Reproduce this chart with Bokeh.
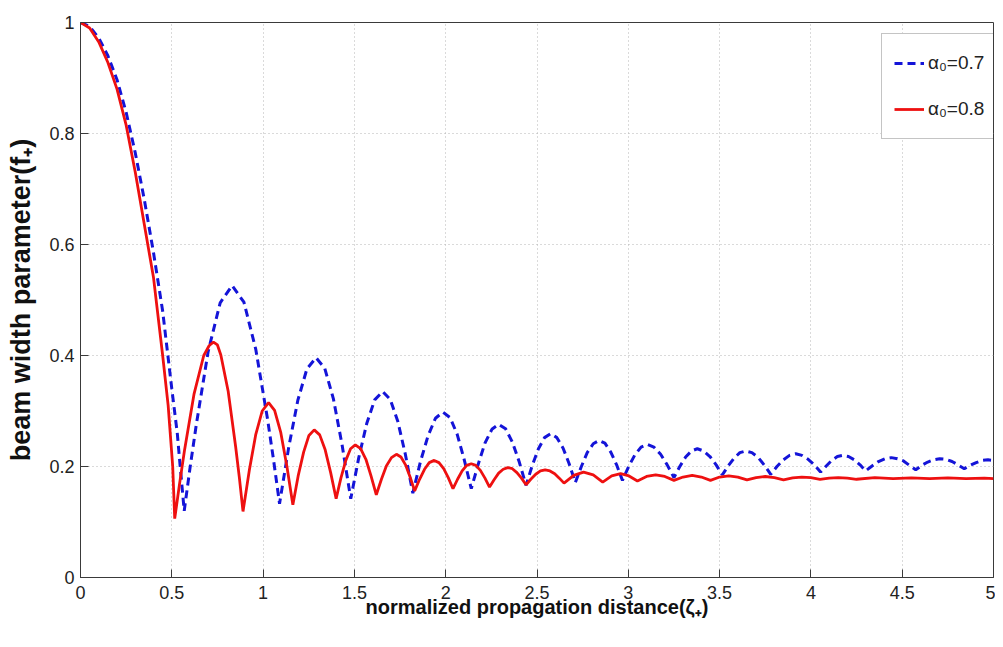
from bokeh.plotting import figure
from bokeh.models import Range1d, FixedTicker, Legend, LegendItem, ColumnDataSource
from bokeh.embed import file_html
from bokeh.resources import INLINE

# ---- data ----
blue_x = [0, 0.05, 0.1, 0.15, 0.2, 0.25, 0.3, 0.35, 0.4, 0.45, 0.5, 0.53, 0.546, 0.568,
          0.6, 0.634, 0.699, 0.765, 0.83, 0.895, 0.96, 1.025, 1.058, 1.09,
          1.14, 1.19, 1.24, 1.29, 1.3375, 1.385, 1.4325, 1.48,
          1.524, 1.568, 1.611, 1.655, 1.696, 1.738, 1.779, 1.82,
          1.861, 1.903, 1.944, 1.985, 2.024, 2.063, 2.101, 2.14,
          2.178, 2.215, 2.253, 2.29, 2.328, 2.365, 2.403, 2.44,
          2.474, 2.508, 2.541, 2.575, 2.609, 2.643, 2.676, 2.71,
          2.743, 2.775, 2.808, 2.84, 2.872, 2.904, 2.936, 2.968,
          3.002, 3.036, 3.07, 3.104, 3.14, 3.177, 3.213, 3.25,
          3.282, 3.314, 3.346, 3.378, 3.412, 3.447, 3.481, 3.515,
          3.547, 3.579, 3.611, 3.643, 3.677, 3.712, 3.746, 3.78,
          3.814, 3.849, 3.883, 3.917, 3.951, 3.985, 4.019, 4.053,
          4.084, 4.114, 4.145, 4.175, 4.206, 4.238, 4.269, 4.3,
          4.335, 4.37, 4.405, 4.44, 4.474, 4.507, 4.54, 4.574,
          4.607, 4.64, 4.672, 4.705, 4.739, 4.773, 4.806, 4.84,
          4.872, 4.905, 4.937, 4.97, 5.0]
blue_y = [1.0, 0.993, 0.972, 0.94, 0.897, 0.838, 0.765, 0.68, 0.585, 0.48, 0.34, 0.26, 0.2, 0.12,
          0.198, 0.275, 0.407, 0.495, 0.526, 0.496, 0.411, 0.284, 0.21, 0.133,
          0.234, 0.319, 0.376, 0.396, 0.377, 0.322, 0.239, 0.142,
          0.216, 0.278, 0.32, 0.335, 0.321, 0.281, 0.222, 0.152,
          0.208, 0.255, 0.287, 0.298, 0.288, 0.258, 0.213, 0.16,
          0.204, 0.242, 0.267, 0.276, 0.268, 0.244, 0.208, 0.166,
          0.202, 0.232, 0.252, 0.259, 0.252, 0.233, 0.205, 0.171,
          0.2, 0.225, 0.241, 0.247, 0.242, 0.226, 0.203, 0.175,
          0.2, 0.221, 0.235, 0.24, 0.235, 0.222, 0.203, 0.18,
          0.2, 0.217, 0.228, 0.232, 0.228, 0.218, 0.203, 0.185,
          0.201, 0.215, 0.225, 0.228, 0.225, 0.216, 0.202, 0.186,
          0.2, 0.212, 0.22, 0.223, 0.22, 0.213, 0.203, 0.19,
          0.201, 0.211, 0.218, 0.22, 0.218, 0.212, 0.203, 0.192,
          0.201, 0.209, 0.214, 0.216, 0.214, 0.21, 0.202, 0.194,
          0.202, 0.208, 0.212, 0.214, 0.213, 0.209, 0.203, 0.196,
          0.202, 0.207, 0.211, 0.212, 0.211]

red_x = [0, 0.05, 0.1, 0.15, 0.2, 0.25, 0.3, 0.35, 0.4, 0.45, 0.48, 0.505, 0.516,
         0.543, 0.569, 0.622, 0.675, 0.705, 0.728, 0.75, 0.7685, 0.809, 0.8495, 0.87, 0.89,
         0.925, 0.96, 0.995, 1.03, 1.063, 1.097, 1.13, 1.163,
         1.192, 1.222, 1.251, 1.28, 1.31, 1.34, 1.37, 1.40,
         1.426, 1.453, 1.479, 1.505, 1.534, 1.563, 1.591, 1.62,
         1.648, 1.675, 1.703, 1.73, 1.755, 1.78, 1.805, 1.83,
         1.857, 1.884, 1.91, 1.937, 1.963, 1.989, 2.014, 2.04,
         2.065, 2.09, 2.115, 2.14, 2.165, 2.19, 2.215, 2.24,
         2.265, 2.29, 2.315, 2.34, 2.365, 2.39, 2.415, 2.44,
         2.466, 2.493, 2.519, 2.545, 2.571, 2.597, 2.622, 2.648,
         2.701, 2.755, 2.808, 2.86, 2.909, 2.958, 3.004, 3.05,
         3.10, 3.15, 3.20, 3.25, 3.30, 3.35, 3.40, 3.45,
         3.50, 3.55, 3.60, 3.65, 3.70, 3.75, 3.80, 3.85,
         3.90, 3.95, 4.00, 4.05, 4.10, 4.15, 4.20, 4.25,
         4.35, 4.45, 4.55, 4.65, 4.75, 4.85, 4.95, 5.0]
red_y = [1.0, 0.99, 0.965, 0.928, 0.88, 0.815, 0.73, 0.635, 0.54, 0.40, 0.31, 0.2, 0.106,
         0.17, 0.228, 0.331, 0.4, 0.418, 0.424, 0.419, 0.401, 0.335, 0.236, 0.18, 0.119,
         0.194, 0.258, 0.3, 0.315, 0.301, 0.261, 0.201, 0.131,
         0.183, 0.226, 0.256, 0.266, 0.257, 0.23, 0.189, 0.142,
         0.179, 0.211, 0.232, 0.239, 0.232, 0.213, 0.183, 0.149,
         0.177, 0.201, 0.216, 0.222, 0.217, 0.203, 0.181, 0.156,
         0.177, 0.195, 0.207, 0.211, 0.207, 0.196, 0.18, 0.16,
         0.177, 0.192, 0.202, 0.205, 0.202, 0.193, 0.179, 0.163,
         0.176, 0.188, 0.195, 0.198, 0.196, 0.189, 0.179, 0.167,
         0.177, 0.186, 0.192, 0.194, 0.192, 0.187, 0.179, 0.17,
         0.184, 0.19, 0.185, 0.172, 0.183, 0.187, 0.183, 0.174,
         0.182, 0.185, 0.182, 0.175, 0.181, 0.184, 0.181, 0.175,
         0.181, 0.183, 0.181, 0.176, 0.180, 0.182, 0.180, 0.176,
         0.1795, 0.181, 0.1798, 0.177, 0.179, 0.180, 0.179, 0.177,
         0.180, 0.178, 0.1795, 0.178, 0.1795, 0.178, 0.179, 0.178]

series_labels = ["α₀=0.7", "α₀=0.8"]
x_ticks = [0, 0.5, 1, 1.5, 2, 2.5, 3, 3.5, 4, 4.5, 5]
x_tick_labels = ["0", "0.5", "1", "1.5", "2", "2.5", "3", "3.5", "4", "4.5", "5"]
y_ticks = [0, 0.2, 0.4, 0.6, 0.8, 1]
y_tick_labels = ["0", "0.2", "0.4", "0.6", "0.8", "1"]
x_label = "normalized propagation distance(ζ₊)"
y_label = "beam width parameter(f₊)"

FONT = "Liberation Sans"
AX = "#3a3a3a"

p = figure(width=995, height=639, output_backend="svg", toolbar_location=None,
           x_range=Range1d(0, 5), y_range=Range1d(0, 1),
           min_border_left=80, min_border_right=2, min_border_top=22, min_border_bottom=62)
p.background_fill_color = "white"
p.border_fill_color = "white"
p.outline_line_color = AX
p.outline_line_width = 1

xa = p.xaxis[0]
ya = p.yaxis[0]
for ax in (xa, ya):
    ax.major_tick_in = 8
    ax.major_tick_out = 0
    ax.minor_tick_in = 0
    ax.minor_tick_out = 0
    ax.axis_line_color = AX
    ax.major_tick_line_color = AX
    ax.major_label_text_font = FONT
    ax.major_label_text_font_size = "18px"
    ax.major_label_text_color = "#222222"
    ax.axis_label_text_font = FONT
    ax.axis_label_text_font_style = "bold"
    ax.axis_label_text_color = "#111111"

xa.ticker = FixedTicker(ticks=x_ticks)
xa.major_label_overrides = dict(zip(x_ticks, x_tick_labels))
ya.ticker = FixedTicker(ticks=y_ticks)
ya.major_label_overrides = dict(zip(y_ticks, y_tick_labels))
xa.axis_label = x_label
ya.axis_label = y_label
xa.axis_label_text_font_size = "20px"
ya.axis_label_text_font_size = "27px"
xa.major_label_standoff = 8
xa.axis_label_standoff = -6
ya.major_label_standoff = 6
ya.axis_label_standoff = 10

p.xgrid.ticker = FixedTicker(ticks=x_ticks)
p.ygrid.ticker = FixedTicker(ticks=y_ticks)
for g in (p.xgrid[0], p.ygrid[0]):
    g.grid_line_color = "#b4b4b4"
    g.grid_line_dash = "1 3"
    g.grid_line_width = 1

src_b = ColumnDataSource(dict(x=blue_x, y=blue_y))
src_r = ColumnDataSource(dict(x=red_x, y=red_y))
rb = p.line("x", "y", source=src_b, line_color="#1414d8", line_width=3, line_dash="8 5")
rr = p.line("x", "y", source=src_r, line_color="#ee1010", line_width=2.8)

legend = Legend(items=[LegendItem(label=series_labels[0], renderers=[rb]),
                       LegendItem(label=series_labels[1], renderers=[rr])],
                location=(801, 438))
legend.border_line_color = "#8a8a8a"
legend.border_line_width = 1
legend.background_fill_color = "white"
legend.background_fill_alpha = 1
legend.label_text_font = FONT
legend.label_text_font_size = "19px"
legend.label_text_color = "#222222"
legend.glyph_width = 30
legend.glyph_height = 20
legend.label_height = 34
legend.spacing = 12
legend.padding = 12
legend.label_standoff = 4
legend.margin = 0
p.add_layout(legend)

open("out.html", "w").write(file_html(p, INLINE))
